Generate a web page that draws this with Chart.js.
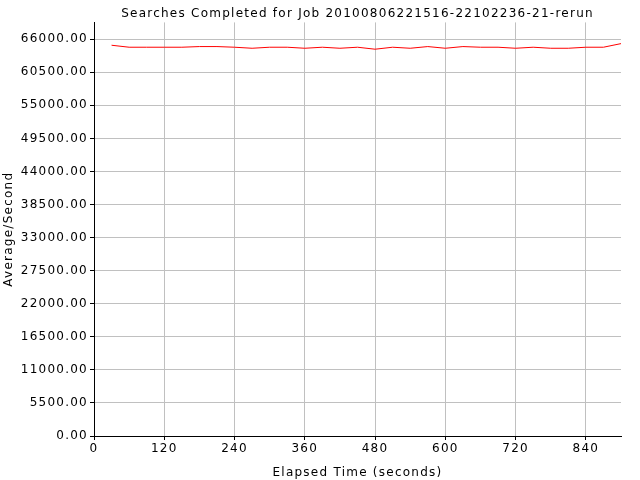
<!DOCTYPE html>
<html>
<head>
<meta charset="utf-8">
<script src="https://cdn.jsdelivr.net/npm/chart.js@4/dist/chart.umd.min.js"></script>
<style>
html,body{margin:0;padding:0;background:#fff;}
#wrap{width:640px;height:480px;}
</style>
</head>
<body>
<div id="wrap"><canvas id="c" width="640" height="480"></canvas></div>
<script>
const chartTitle = "Searches Completed for Job 20100806221516-22102236-21-rerun";
const xTitle = "Elapsed Time (seconds)";
const yTitle = "Average/Second";
const elapsedSeconds = [30,60,90,120,150,180,210,240,270,300,330,360,390,420,450,480,510,540,570,600,630,660,690,720,750,780,810,840,870,900];
const averagePerSecond = [65000,64670,64670,64670,64670,64780,64780,64670,64500,64670,64670,64500,64670,64500,64670,64340,64670,64500,64780,64500,64780,64670,64670,64500,64670,64500,64500,64670,64670,65270];
const yTicks = [0,5500,11000,16500,22000,27500,33000,38500,44000,49500,55000,60500,66000];
const xTicks = [0,120,240,360,480,600,720,840];
const yMax = 68800;
const xMax = 900;

const FONT = "'DejaVu Sans', sans-serif";
const SPACING = '1.25px';
const pts = elapsedSeconds.map((t,i)=>({x:t,y:averagePerSecond[i]}));

const spacingPlugin = {
  id: 'spacing',
  beforeUpdate(chart){ chart.ctx.letterSpacing = SPACING; },
  beforeLayout(chart){ chart.ctx.letterSpacing = SPACING; },
  beforeDraw(chart){ chart.ctx.letterSpacing = SPACING; }
};

new Chart(document.getElementById('c'), {
  type: 'line',
  plugins: [spacingPlugin],
  data: { datasets: [{
    data: pts, borderColor: '#ff0000', borderWidth: 1, pointRadius: 0, tension: 0, fill: false
  }]},
  options: {
    responsive: false, animation: false, devicePixelRatio: 1,
    layout: { padding: { left: 0, right: 19, top: 0, bottom: 0 } },
    plugins: {
      legend: { display: false }, tooltip: { enabled: false },
      title: { display: true, text: chartTitle, color: '#000', fullSize: false,
        font: { family: FONT, size: 12, weight: 'normal' }, padding: { top: 7, bottom: 1 } }
    },
    scales: {
      x: {
        type: 'linear', min: 0, max: xMax,
        afterBuildTicks: s => { s.ticks = xTicks.map(v => ({ value: v })); },
        ticks: { autoSkip: false, color: '#000', padding: 2, maxRotation: 0,
          font: { family: FONT, size: 12 } },
        grid: { color: '#c0c0c0', tickColor: '#000', tickLength: 4, drawTicks: true },
        border: { color: '#000', width: 1 },
        title: { display: true, text: xTitle, color: '#000', font: { family: FONT, size: 12 }, padding: { top: 4, bottom: 0 } },
        afterFit: s => { s.height = 44; }
      },
      y: {
        type: 'linear', min: 0, max: yMax,
        afterBuildTicks: s => { s.ticks = yTicks.map(v => ({ value: v })); },
        ticks: { autoSkip: false, color: '#000', padding: 2,
          font: { family: FONT, size: 12 }, callback: v => Number(v).toFixed(2) },
        grid: { color: '#c0c0c0', tickColor: '#000', tickLength: 4, drawTicks: true },
        border: { color: '#000', width: 1 },
        title: { display: true, text: yTitle, color: '#000', font: { family: FONT, size: 12 }, padding: { top: 2, bottom: 4 } },
        afterFit: s => { s.width = 94; }
      }
    }
  }
});
</script>
</body>
</html>
